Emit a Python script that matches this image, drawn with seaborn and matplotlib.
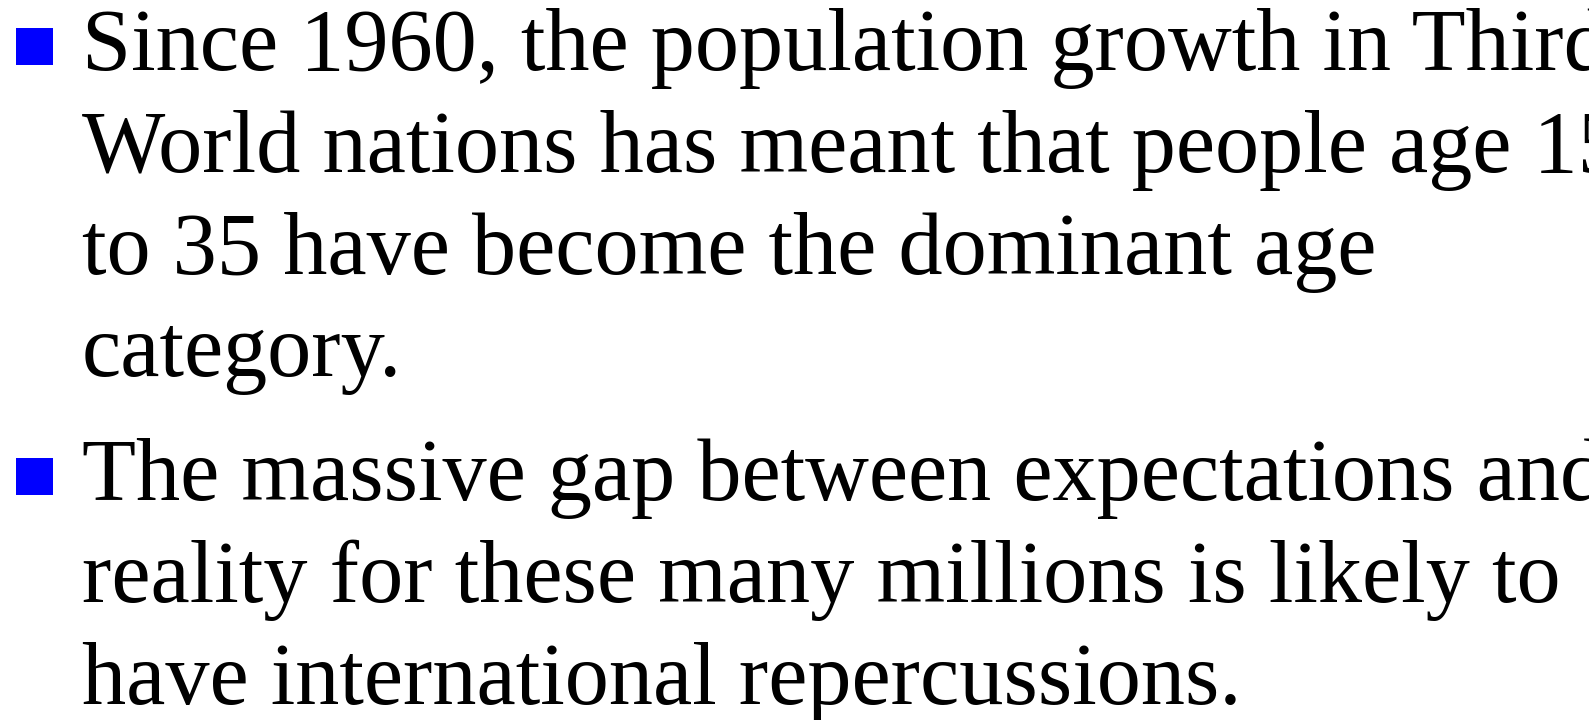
import matplotlib
matplotlib.use("Agg")
import matplotlib.pyplot as plt
import pandas as pd

bullet_1_lines = [
    "Since 1960, the population growth in Third",
    "World nations has meant that people age 15",
    "to 35 have become the dominant age",
    "category.",
]
bullet_2_lines = [
    "The massive gap between expectations and",
    "reality for these many millions is likely to",
    "have international repercussions.",
]
bullets = [bullet_1_lines, bullet_2_lines]

import seaborn as sns
plt.rcdefaults()
plt.rcParams['font.family'] = ['Liberation Serif', 'DejaVu Serif']

W, H = 1589, 720
fig = plt.figure(figsize=(W / 100, H / 100), dpi=100)
ax = fig.add_axes([0, 0, 1, 1])
ax.set_xlim(0, W)
ax.set_ylim(H, 0)
ax.axis("off")

fs = 63.5
line_h = 102
text_x = 82
bullet_pos = []
y = 70
for i, lines in enumerate(bullets):
    bullet_pos.append((34, y - 24))
    for line in lines:
        fig.text(text_x, y, line, color="black", va="baseline", ha="left",
                 family=['Liberation Serif', 'DejaVu Serif'], fontsize=fs,
                 transform=ax.transData)
        y += line_h
    y += 22

bdf = pd.DataFrame(bullet_pos, columns=["x", "y"])
sns.scatterplot(data=bdf, x="x", y="y", marker="s", s=(37 * 0.72) ** 2,
                color="#0000FF", linewidth=0, ax=ax, legend=False)
ax.set_xlim(0, W)
ax.set_ylim(H, 0)
ax.axis("off")

fig.savefig("out.png", dpi=100, facecolor="white")
